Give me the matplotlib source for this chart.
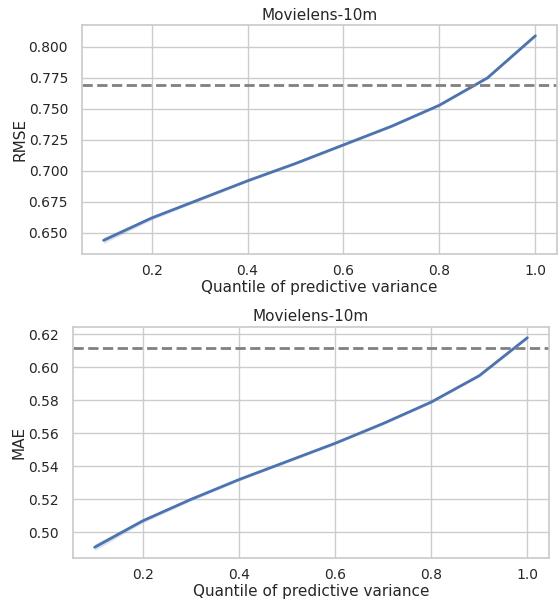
import numpy as np
import matplotlib
matplotlib.use("Agg")
import matplotlib.pyplot as plt
import matplotlib.ticker as mticker
import seaborn as sns

quantiles = [0.1, 0.2, 0.3, 0.4, 0.5, 0.6, 0.7, 0.8, 0.9, 1.0]
rmse = [0.644, 0.662, 0.677, 0.692, 0.706, 0.721, 0.736, 0.753, 0.775, 0.809]
rmse_spread = [0.0025, 0.0015, 0.0012, 0.0010, 0.0010, 0.0010, 0.0010, 0.0010, 0.0010, 0.0010]
rmse_baseline = 0.769

mae = [0.491, 0.507, 0.520, 0.532, 0.543, 0.554, 0.566, 0.579, 0.595, 0.618]
mae_spread = [0.0020, 0.0012, 0.0010, 0.0008, 0.0008, 0.0008, 0.0008, 0.0008, 0.0008, 0.0008]
mae_baseline = 0.612

title = "Movielens-10m"
xlabel = "Quantile of predictive variance"

sns.set_theme(style="whitegrid", context="notebook")
plt.rcParams['font.family'] = ['DejaVu Sans']
blue = sns.color_palette("deep")[0]

fig = plt.figure(figsize=(5.59, 6.02), dpi=100)
ax1 = fig.add_axes([0.1467, 0.5781, 0.8497, 0.380])
ax2 = fig.add_axes([0.1306, 0.0731, 0.8515, 0.3837])

for ax, vals, spread, base, ylab, step, fmt in [
        (ax1, rmse, rmse_spread, rmse_baseline, "RMSE", 0.025, "%.3f"),
        (ax2, mae, mae_spread, mae_baseline, "MAE", 0.02, "%.2f")]:
    v = np.array(vals)
    s = np.array(spread)
    ax.fill_between(quantiles, v - s, v + s, color=blue, alpha=0.2, linewidth=0)
    ax.plot(quantiles, v, color=blue, linewidth=2)
    ax.axhline(base, color="grey", linestyle="--", linewidth=2)
    ax.set_title(title, fontsize=11, pad=4)
    ax.set_xlabel(xlabel, fontsize=11, labelpad=1)
    ax.set_ylabel(ylab, fontsize=11, labelpad=1)
    ax.tick_params(axis="x", labelsize=10, pad=1.5)
    ax.tick_params(axis="y", labelsize=10, pad=4)
    ax.yaxis.set_major_locator(mticker.MultipleLocator(step))
    ax.yaxis.set_major_formatter(mticker.FormatStrFormatter(fmt))

ax1.set_ylim(0.633, 0.8175)
ax2.set_ylim(0.4845, 0.6245)

fig.savefig("out.png", dpi=100)
